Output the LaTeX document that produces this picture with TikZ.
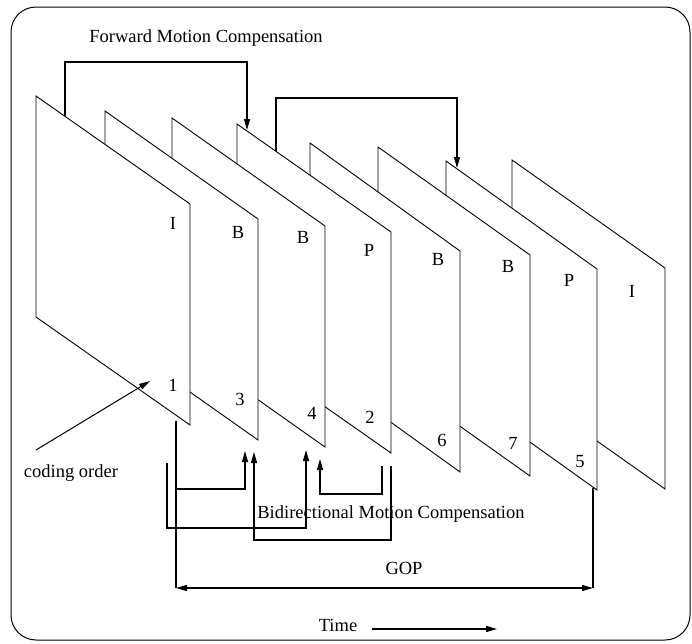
\documentclass[tikz,border=0pt]{standalone}
\usepackage{fontspec}
\setmainfont{Liberation Serif}
\usetikzlibrary{arrows.meta}
\begin{document}
\begin{tikzpicture}[x=1pt,y=-1pt,
  frm/.style={draw=black,line width=0.9pt,fill=white,line join=miter},
  mc/.style={draw=black,line width=1.3pt,line join=miter},
  tip/.style={-{Triangle[length=11pt,width=6pt]}},
  lbl/.style={font=\fontsize{18.5}{20}\selectfont,inner sep=0pt}]
\useasboundingbox (0,0) rectangle (692,643);
\draw[line width=1pt,rounded corners=25pt] (11,7) rectangle (690,640);
% frames, back to front
\foreach \l/\r/\t in {512/665/160, 446/597/161, 378/530/147, 310/460/143, 237/391/124, 172/325/118, 105/258/111, 36/190/96}
  \draw[frm] (\l,\t) -- (\r,\t+108) -- (\r,\t+329) -- (\l,\t+221) -- cycle;
% frame types
\node[lbl] (ty1) at (173,223) {I};
\node[lbl] (ty2) at (238,232) {B};
\node[lbl] (ty3) at (303,237) {B};
\node[lbl] (ty4) at (369,250) {P};
\node[lbl] (ty5) at (438,259) {B};
\node[lbl] (ty6) at (508,266) {B};
\node[lbl] (ty7) at (569,280) {P};
\node[lbl] (ty8) at (632,291) {I};
% coding order numbers
\node[lbl] (n1) at (173,385) {1};
\node[lbl] (n2) at (240,399) {3};
\node[lbl] (n3) at (312,413) {4};
\node[lbl] (n4) at (370,417) {2};
\node[lbl] (n5) at (442,440) {6};
\node[lbl] (n6) at (513,443) {7};
\node[lbl] (n7) at (580,462) {5};
% forward motion compensation
\node[lbl] (fwd) at (206,38) {Forward Motion Compensation};
\coordinate (f1s) at (65,116);
\coordinate (f1e) at (247,130);
\coordinate (f2s) at (276,151);
\coordinate (f2e) at (457,168);
\draw[mc,tip] (f1s) -- (65,62) -- (247,62) -- (f1e);
\draw[mc,tip] (f2s) -- (276,98) -- (457,98) -- (f2e);
% coding order
\node[lbl] (co) at (71,473) {coding order};
\coordinate (cos) at (36,450);
\coordinate (coe) at (150,381);
\draw[line width=1pt,tip] (cos) -- (coe);
% bidirectional motion compensation
\node[lbl] (bid) at (391,514) {Bidirectional Motion Compensation};
\coordinate (i1) at (176,421);
\coordinate (g1) at (176,588);
\coordinate (g2) at (593,588);
\coordinate (p5) at (593,488);
\draw[mc] (i1) -- (g1);
\draw[mc,tip] (176,489) -| (245,451);
\draw[mc,tip] (167,463) |- (306,528) -- (306,450);
\draw[mc,tip] (391,466) |- (254,540) -- (254,452);
\draw[mc,tip] (382,466) |- (320,494) -- (320,459);
% GOP
\draw[mc] (p5) -- (g2);
\draw[mc,{Triangle[length=11pt,width=6pt]}-{Triangle[length=11pt,width=6pt]}] (g1) -- (g2);
\node[lbl] (gop) at (404,568) {GOP};
% time
\node[lbl] (time) at (338,625) {Time};
\coordinate (ts) at (372,629);
\coordinate (te) at (497,629);
\draw[line width=1.2pt,tip] (ts) -- (te);
\end{tikzpicture}
\end{document}
